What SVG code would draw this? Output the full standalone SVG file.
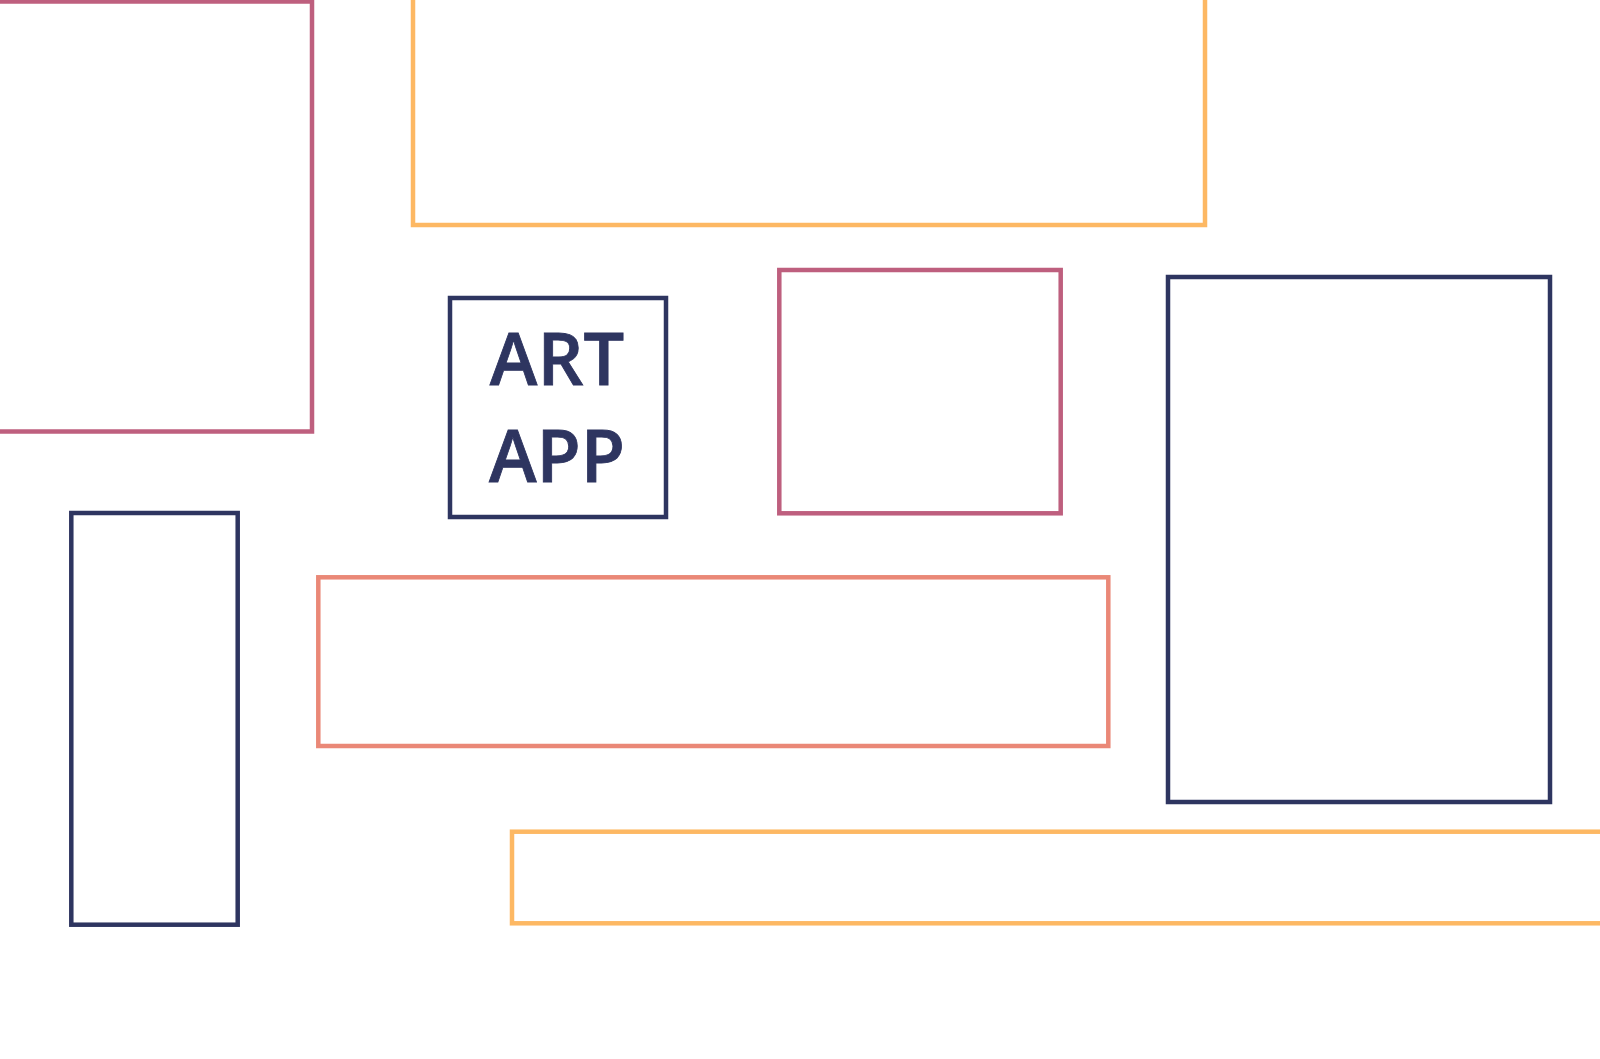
<svg xmlns="http://www.w3.org/2000/svg" width="1600" height="1059" viewBox="0 0 1600 1059">
<style>
.b{fill:none;stroke-width:4.5}
.pink{stroke:#BE5F7E}
.orange{stroke:#FDB863}
.navy{stroke:#2E3560}
.salmon{stroke:#EA8877}
.t{font-family:"Open Sans","Liberation Sans",sans-serif;font-weight:600;font-size:72px;fill:#2E3560;stroke:#2E3560;stroke-width:0.8;text-anchor:middle}
</style>
<rect width="1600" height="1059" fill="#FFFFFF"/>
<g id="pink-top-left"><rect class="b pink" x="-10" y="1.5" width="322" height="430"/></g>
<g id="orange-top"><rect class="b orange" x="413" y="-10" width="792" height="235"/></g>
<g id="art-app">
<rect class="b navy" x="450" y="298" width="216" height="219"/>
<text class="t" x="557" y="385">ART</text>
<text class="t" x="557" y="482">APP</text>
</g>
<g id="pink-middle"><rect class="b pink" x="779.3" y="270" width="281.4" height="243.3"/></g>
<g id="navy-right"><rect class="b navy" x="1168" y="277" width="382" height="525"/></g>
<g id="navy-bottom-left"><rect class="b navy" x="71.3" y="513" width="166.4" height="411.7"/></g>
<g id="salmon-middle"><rect class="b salmon" x="318.3" y="577.3" width="790" height="168.7"/></g>
<g id="orange-bottom"><rect class="b orange" x="512" y="831.7" width="1100" height="91.6"/></g>
<g id="connectors"></g>
</svg>
